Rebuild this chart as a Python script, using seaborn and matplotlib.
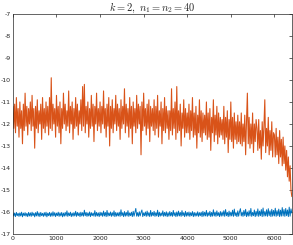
import matplotlib
matplotlib.use('Agg')
import matplotlib.pyplot as plt
import seaborn as sns
import numpy as np

# sample spacing along x (values every 20 units)
step = 20

orange_vals = [
    -11.2, -12.2, -11.1, -12.4, -10.8, -12.1, -11.3, -12.6, -11.0, -12.2, -11.4, -12.9, -11.1, -12.3, -10.6, -12.1, -11.2, -12.5, -11.3, -12.0,
    -11.0, -12.3, -10.7, -12.1, -11.3, -13.1, -11.2, -12.2, -10.9, -12.4, -11.4, -12.0, -11.1, -12.7, -10.8, -12.2, -11.3, -12.4, -11.0, -12.1,
    -11.2, -12.5, -10.8, -12.2, -9.9, -12.3, -11.1, -12.0, -11.3, -12.6, -10.7, -12.1, -11.2, -12.4, -11.0, -12.9, -11.3, -12.2, -10.6, -12.0,
    -11.1, -12.3, -11.4, -12.1, -10.5, -12.4, -11.2, -12.0, -11.0, -12.7, -11.3, -12.2, -10.8, -12.1, -11.1, -12.5, -11.4, -12.0, -10.9, -12.3,
    -10.3, -12.1, -10.2, -12.4, -11.2, -12.0, -11.0, -12.6, -11.3, -12.2, -10.7, -12.1, -11.1, -12.8, -11.2, -12.0, -10.6, -12.3, -11.3, -12.1,
    -11.0, -12.4, -11.2, -12.0, -10.5, -12.2, -11.3, -12.6, -11.1, -12.1, -10.8, -13.0, -11.2, -12.2, -10.9, -12.4, -11.3, -12.0, -10.7, -12.3,
    -11.1, -12.1, -11.3, -12.7, -10.9, -12.2, -11.2, -12.0, -10.4, -12.4, -11.1, -12.1, -11.3, -12.6, -10.8, -12.2, -11.2, -12.9, -11.0, -12.1,
    -11.3, -12.4, -10.7, -12.2, -11.1, -12.0, -11.2, -13.4, -11.0, -12.3, -10.6, -12.1, -11.3, -12.5, -11.1, -12.2, -10.9, -12.8, -11.2, -12.1,
    -11.3, -12.3, -10.9, -12.5, -11.2, -12.2, -10.7, -12.6, -11.4, -12.1, -11.0, -12.9, -11.3, -12.3, -10.8, -12.4, -11.2, -12.2, -11.4, -12.7,
    -11.4, -12.3, -10.4, -12.5, -11.3, -12.2, -11.0, -12.7, -10.3, -12.4, -11.4, -12.3, -11.1, -13.0, -11.5, -12.2, -10.9, -12.6, -11.3, -12.4,
    -11.5, -12.4, -11.1, -12.7, -11.4, -12.3, -10.8, -12.6, -11.5, -12.5, -11.2, -13.1, -11.6, -12.4, -10.9, -12.6, -11.4, -12.8, -11.5, -12.4,
    -11.6, -12.5, -11.0, -12.7, -11.5, -12.6, -11.3, -13.2, -11.7, -12.4, -10.9, -12.8, -11.6, -12.5, -11.2, -12.9, -11.5, -12.6, -11.7, -12.5,
    -11.8, -12.7, -11.2, -12.9, -11.7, -12.6, -11.4, -13.3, -11.8, -12.7, -11.0, -12.8, -11.7, -13.1, -11.5, -12.7, -11.9, -12.9, -11.6, -12.8,
    -11.9, -12.9, -11.5, -13.0, -12.0, -12.8, -11.6, -13.4, -11.9, -10.6, -12.9, -11.7, -13.1, -12.0, -12.9, -11.5, -13.3, -12.0, -12.8, -11.8,
    -12.2, -13.2, -11.8, -13.1, -12.3, -13.6, -11.9, -13.0, -12.1, -10.9, -13.3, -12.2, -13.0, -11.7, -13.4, -12.3, -13.2, -11.9, -13.5, -12.4,
    -12.5, -13.5, -12.2, -13.4, -12.6, -13.8, -12.3, -13.5, -12.7, -13.9, -12.6, -13.8, -13.0, -14.1, -13.2, -14.4, -13.5, -14.6, -13.9, -15.0,
    -15.3,
]

blue_vals = [
    -16.03, -16.19, -16.05, -16.21, -16.02, -16.17, -16.06, -16.20, -16.04, -16.18, -16.01, -16.22, -16.05, -16.17, -16.03, -16.19, -16.06, -16.21, -16.02, -16.18,
    -16.04, -16.20, -16.01, -16.17, -16.05, -16.22, -16.03, -16.18, -15.98, -16.19, -16.04, -16.21, -16.02, -16.17, -16.06, -16.20, -16.03, -16.18, -16.01, -16.22,
    -16.05, -16.17, -16.02, -16.20, -16.04, -16.19, -15.99, -16.18, -16.03, -16.21, -16.05, -16.17, -16.01, -16.20, -16.04, -16.18, -16.02, -16.22, -16.05, -16.19,
    -16.02, -16.18, -15.95, -16.20, -16.04, -16.17, -16.01, -16.21, -16.05, -16.19, -16.03, -16.18, -15.97, -16.20, -16.02, -16.17, -16.04, -16.21, -16.01, -16.18,
    -16.03, -16.19, -15.92, -16.17, -16.02, -16.20, -16.04, -16.18, -16.00, -16.21, -16.03, -16.17, -16.05, -16.19, -15.94, -16.20, -16.02, -16.18, -16.04, -16.21,
    -16.01, -16.17, -16.03, -16.20, -15.96, -16.18, -16.02, -16.21, -15.93, -16.19, -16.04, -16.17, -16.00, -16.20, -16.03, -16.18, -15.95, -16.21, -16.02, -16.19,
    -16.04, -16.18, -16.01, -16.20, -15.90, -16.17, -16.03, -16.21, -15.98, -16.19, -16.02, -16.18, -15.94, -16.20, -16.04, -16.17, -16.01, -16.21, -15.97, -16.19,
    -16.02, -15.84, -16.19, -16.03, -16.20, -15.99, -16.18, -16.02, -15.91, -16.21, -16.04, -16.17, -16.00, -16.20, -15.96, -16.18, -16.03, -16.21, -15.93, -16.19,
    -16.02, -16.17, -15.97, -16.20, -16.03, -16.18, -15.92, -16.21, -16.01, -16.19, -16.04, -16.17, -15.95, -16.20, -16.02, -16.18, -15.99, -16.21, -16.03, -16.19,
    -15.98, -16.18, -16.02, -16.20, -15.93, -16.17, -16.03, -16.21, -16.00, -16.19, -15.96, -16.18, -16.02, -16.20, -15.94, -16.17, -16.03, -16.21, -15.97, -16.19,
    -16.02, -16.18, -16.00, -16.20, -16.03, -16.17, -15.98, -16.21, -16.02, -16.19, -16.04, -16.18, -15.99, -16.20, -16.03, -16.17, -16.01, -16.21, -15.97, -16.19,
    -16.01, -16.18, -15.93, -16.20, -16.03, -16.17, -15.97, -16.21, -16.02, -16.19, -15.90, -16.18, -16.01, -16.20, -15.95, -16.17, -16.03, -16.21, -15.98, -16.19,
    -16.00, -16.18, -15.94, -16.20, -15.89, -16.17, -16.02, -16.21, -15.96, -16.19, -16.01, -16.18, -15.92, -16.20, -15.87, -16.17, -16.03, -16.21, -15.95, -16.19,
    -15.99, -15.85, -16.18, -16.01, -16.20, -15.93, -16.17, -15.88, -16.21, -16.00, -16.19, -15.94, -16.18, -15.84, -16.20, -16.02, -16.17, -15.91, -16.21, -15.97,
    -16.18, -15.86, -16.20, -15.96, -16.17, -15.89, -16.21, -15.82, -16.19, -15.98, -16.18, -15.90, -16.20, -15.85, -16.17, -15.95, -16.21, -15.88, -16.19, -15.93,
    -16.18, -15.83, -16.20, -15.94, -16.17, -15.87, -16.21, -15.92, -16.19, -15.80, -16.18, -15.89, -16.20, -15.84, -16.17, -15.91, -16.21, -15.78, -16.19, -15.86,
    -16.05,
]

xticks = [0, 1000, 2000, 3000, 4000, 5000, 6000]
yticks = [-17, -16, -15, -14, -13, -12, -11, -10, -9, -8, -7]
title = r"$k=2,\ n_1=n_2=40$"

sns.set_theme(style="white")
plt.rcParams['mathtext.fontset'] = 'cm'
plt.rcParams['font.family'] = ['DejaVu Sans']

fig = plt.figure(figsize=(2.93, 2.45), dpi=100)
ax = fig.add_axes([0.044, 0.045, 0.952, 0.898])

x_orange = np.arange(len(orange_vals)) * step
x_blue = np.arange(len(blue_vals)) * step

sns.lineplot(x=x_blue, y=blue_vals, color='#0072BD', linewidth=0.7, estimator=None, ax=ax)
sns.lineplot(x=x_orange, y=orange_vals, color='#D95319', linewidth=0.8, estimator=None, ax=ax)

ax.set_xlim(0, 6400)
ax.set_ylim(-17, -7)
ax.set_xticks(xticks)
ax.set_yticks(yticks)
ax.set_xticklabels([str(t) for t in xticks])
ax.set_yticklabels([str(t) for t in yticks])
ax.tick_params(direction='in', length=2.5, width=0.5, labelsize=4.5, colors='#262626',
               top=True, right=True, pad=1.5)
for s in ax.spines.values():
    s.set_color('#262626')
    s.set_linewidth(0.5)
ax.set_title(title, fontsize=7.5, pad=2)

fig.savefig('out.png', dpi=100)
